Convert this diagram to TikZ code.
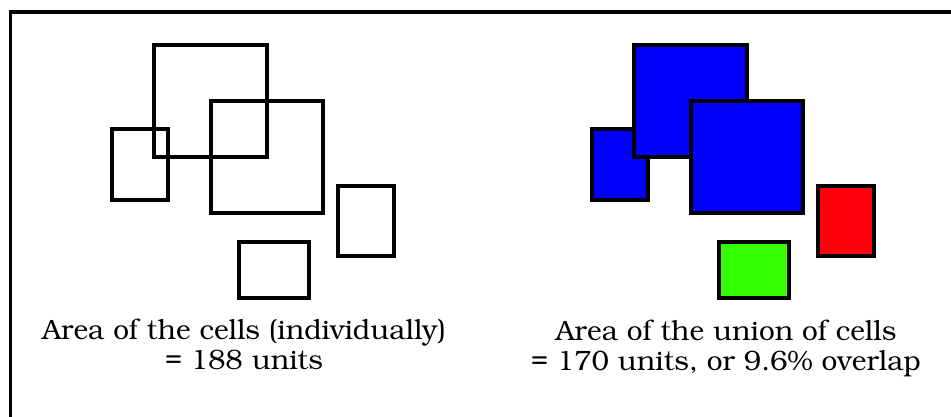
\documentclass[tikz,border=0pt]{standalone}
\usepackage[T1]{fontenc}
\usepackage{bookman}
\usepackage{xcolor}
\usepackage{tikz}

\definecolor{cellblue}{RGB}{0,0,250}
\definecolor{cellred}{RGB}{255,0,12}
\definecolor{cellgreen}{RGB}{51,255,0}

\begin{document}
\begin{tikzpicture}[x=0.75pt, y=-0.75pt,
  frame/.style={draw, line width=2.9pt},
  cell/.style={draw, line width=2.8pt},
  lbl/.style={font=\fontsize{21}{22.5}\selectfont, align=center, inner sep=0pt}
]
% ---- page and frame
\clip (0,0) rectangle (951,417);
\fill[white] (0,0) rectangle (951,417);
\draw[frame] (10.5,12) rectangle (1000,500);
% ---- (left) the cells one by one
\foreach \xa/\ya/\xb/\yb in {112/129/168/200, 154/45/267/157, 211/101/323/213, 338/186/394/256, 239/242/309/298}
  { \draw[cell] (\xa,\ya) rectangle (\xb,\yb); }
\node[lbl] (indiv) at (244,344) {Area of the cells (individually)\\= 188 units};
% ---- (right) the union, same cells shifted by 480
\foreach \xa/\ya/\xb/\yb in {112/129/168/200, 154/45/267/157, 211/101/323/213}
  { \draw[cell, fill=cellblue] (\xa+480,\ya) rectangle (\xb+480,\yb); }
\draw[cell, fill=cellred] (818,186) rectangle (874,256);
\draw[cell, fill=cellgreen] (719,242) rectangle (789,298);
\node[lbl] (union) at (726,348) {Area of the union of cells\\= 170 units, or 9.6\% overlap};
\end{tikzpicture}
\end{document}
